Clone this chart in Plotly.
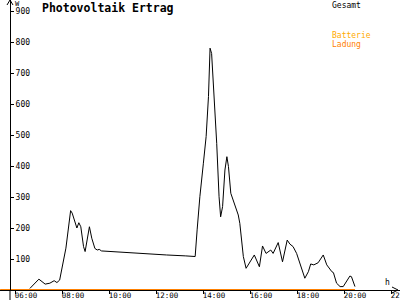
import plotly.graph_objects as go

# ---- data ----
gesamt_times = ["06:38", "07:01", "07:17", "07:29", "07:40", "07:47", "07:54", "08:00", "08:10",
                "08:22", "08:26", "08:38", "08:43", "08:48", "08:55", "08:59", "09:05", "09:10",
                "09:16", "09:24", "09:30", "09:35", "09:41", "10:49", "11:40", "12:27", "13:16",
                "13:40", "13:45", "13:52", "14:01", "14:08", "14:14", "14:18", "14:22", "14:26",
                "14:35", "14:41", "14:45", "14:50", "14:56", "15:01", "15:05", "15:11", "15:22",
                "15:30", "15:34", "15:43", "15:50", "16:00", "16:11", "16:24", "16:32", "16:41",
                "16:53", "16:59", "17:12", "17:23", "17:35", "17:42", "17:50", "17:59", "18:08",
                "18:20", "18:29", "18:35", "18:43", "18:54", "19:07", "19:16", "19:29", "19:33",
                "19:41", "19:50", "19:58", "20:05", "20:15", "20:19", "20:28"]
gesamt_values = [5, 35, 19, 22, 30, 24, 32, 68, 135,
                 256, 248, 200, 217, 204, 140, 124, 172, 204,
                 167, 134, 129, 131, 126, 120, 116, 113, 110,
                 108, 194, 301, 409, 495, 624, 780, 763, 677,
                 473, 301, 236, 269, 387, 430, 398, 312, 269,
                 242, 215, 108, 70, 91, 113, 75, 142, 118,
                 129, 118, 153, 91, 161, 148, 140, 118, 81,
                 38, 59, 84, 81, 88, 113, 81, 59, 56,
                 22, 11, 11, 27, 45, 43, 11]
ladung_times = ["05:22", "20:28"]
ladung_values = [0, 0]
x_tick_hours = [6, 8, 10, 12, 14, 16, 18, 20, 22]
x_tick_labels = ["06:00", "08:00", "10:00", "12:00", "14:00", "16:00", "18:00", "20:00", "22:00"]
y_tick_values = [100, 200, 300, 400, 500, 600, 700, 800, 900]
y_tick_labels = ["100", "200", "300", "400", "500", "600", "700", "800", "900"]


def to_hours(t):
    h, m = t.split(":")
    return int(h) + int(m) / 60.0


W, H = 400, 300
MB = 10
PH = H - MB
PX_PER_HOUR = 23.5
X0 = 6 - 15 / PX_PER_HOUR
X1 = X0 + W / PX_PER_HOUR
YMAX = PH / 0.31
MONO = "DejaVu Sans Mono"
ORANGE = "#FF8000"
BATT = "#FFAA00"


def px(x):
    return x / W


def py(y):
    return (PH - y) / PH


fig = go.Figure()
fig.add_trace(go.Scatter(x=[to_hours(t) for t in ladung_times], y=ladung_values,
                         mode="lines", line=dict(color=ORANGE, width=2), cliponaxis=False,
                         showlegend=False, hoverinfo="skip"))
fig.add_trace(go.Scatter(x=[to_hours(t) for t in gesamt_times], y=gesamt_values,
                         mode="lines", line=dict(color="black", width=1),
                         showlegend=False))

fig.update_layout(
    width=W, height=H,
    margin=dict(l=0, r=0, t=0, b=MB, autoexpand=False),
    paper_bgcolor="white", plot_bgcolor="white",
    font=dict(family=MONO, size=8, color="black"),
    xaxis=dict(range=[X0, X1], showgrid=False, zeroline=False, automargin=False,
               showline=True, linecolor="black", linewidth=1,
               ticks="outside", ticklen=3, tickcolor="black",
               tickvals=x_tick_hours, ticktext=x_tick_labels,
               ticklabelshift=11, ticklabelstandoff=-5, ticklabeloverflow="allow",
               tickfont=dict(family=MONO, size=7.5)),
    yaxis=dict(range=[0, YMAX], showgrid=False, zeroline=False, automargin=False,
               anchor="free", position=px(10), side="right",
               showline=True, linecolor="black", linewidth=1,
               ticks="outside", ticklen=3, tickcolor="black",
               tickvals=y_tick_values, ticktext=y_tick_labels,
               tickfont=dict(family=MONO, size=8)),
    shapes=[
        dict(type="path", xref="paper", yref="paper",
             path=f"M {px(7)} {py(5)} L {px(10)} {py(0)} L {px(13)} {py(5)}",
             line=dict(color="black", width=1)),
        dict(type="path", xref="paper", yref="paper",
             path=f"M {px(392)} {py(287)} L {px(398)} {py(290)} L {px(392)} {py(293)}",
             line=dict(color="black", width=1)),
        dict(type="line", xref="paper", yref="paper",
             x0=px(10), x1=px(10), y0=py(290), y1=py(300),
             line=dict(color="black", width=1)),
    ],
    annotations=[
        dict(text="<b>Photovoltaik Ertrag</b>", x=px(40), y=py(8), xref="paper", yref="paper",
             xanchor="left", yanchor="middle", showarrow=False,
             font=dict(family=MONO, size=11.5, color="black")),
        dict(text="W", x=px(13), y=py(4), xref="paper", yref="paper",
             xanchor="left", yanchor="middle", showarrow=False,
             font=dict(family=MONO, size=7, color="black")),
        dict(text="h", x=px(387), y=py(282), xref="paper", yref="paper",
             xanchor="center", yanchor="middle", showarrow=False,
             font=dict(family=MONO, size=8, color="black")),
        dict(text="Gesamt", x=px(330), y=py(5), xref="paper", yref="paper",
             xanchor="left", yanchor="middle", showarrow=False,
             font=dict(family=MONO, size=8, color="black")),
        dict(text="Batterie", x=px(330), y=py(35), xref="paper", yref="paper",
             xanchor="left", yanchor="middle", showarrow=False,
             font=dict(family=MONO, size=8, color=BATT)),
        dict(text="Ladung", x=px(330), y=py(45), xref="paper", yref="paper",
             xanchor="left", yanchor="middle", showarrow=False,
             font=dict(family=MONO, size=8, color=ORANGE)),
    ],
)

fig.write_html("out.html")
